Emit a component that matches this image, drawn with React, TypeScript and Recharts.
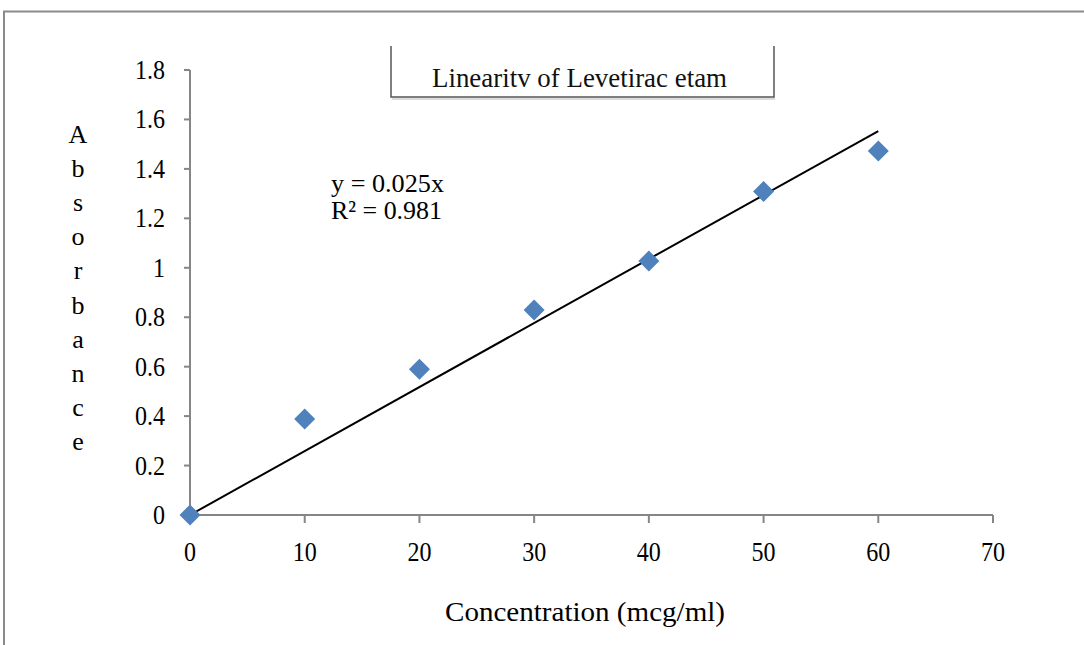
// @ts-nocheck
import React from "react";
import {
  ScatterChart,
  Scatter,
  XAxis,
  YAxis,
  ReferenceLine,
} from "recharts";

const concentration = [0, 10, 20, 30, 40, 50, 60];
const absorbance = [0, 0.388, 0.59, 0.829, 1.027, 1.309, 1.472];
const trendX = [0, 60];
const trendY = [0, 1.553];
const xTicks = [0, 10, 20, 30, 40, 50, 60, 70];
const yTicks = [0, 0.2, 0.4, 0.6, 0.8, 1, 1.2, 1.4, 1.6, 1.8];
const yLabelLetters = "Absorbance".split("");

const points = concentration.map((c, i) => ({ x: c, y: absorbance[i] }));

const FONT = "'Liberation Serif', 'Times New Roman', serif";
const AXIS_GRAY = "#868686";

// square turned 45deg, like Excel's diamond marker
const Diamond = (props) => {
  const { cx, cy } = props;
  const r = 10.5;
  return (
    <polygon
      points={`${cx},${cy - r} ${cx + r},${cy} ${cx},${cy + r} ${cx - r},${cy}`}
      fill="#4F81BD"
    />
  );
};

// the source font is a little narrower than Liberation Serif
const XTick = ({ x, y, payload }) => (
  <g transform={`translate(${x},${y})`}>
    <text transform="scale(0.89,1)" textAnchor="middle" dy={18} fontFamily={FONT} fontSize={27} fill="#000">
      {payload.value}
    </text>
  </g>
);

const YTick = ({ x, y, payload }) => (
  <g transform={`translate(${x},${y})`}>
    <text transform="scale(0.89,1)" textAnchor="end" dy={9} fontFamily={FONT} fontSize={27} fill="#000">
      {payload.value}
    </text>
  </g>
);

const YLabel = () => (
  <g>
    {yLabelLetters.map((ch, i) => (
      <text
        key={i}
        x={78}
        y={143 + i * 34.1}
        textAnchor="middle"
        fontFamily={FONT}
        fontSize={26}
        fill="#000"
      >
        {ch}
      </text>
    ))}
  </g>
);

const Frame = () => (
  <g>
    <rect x={4} y={11.5} width={1200} height={800} fill="none" stroke="#8a8a8a" strokeWidth={2} />
    <polyline points="391,46 391,97 774,97 774,46" fill="none" stroke="#555" strokeWidth={1.5} />
    <line x1={392} y1={99} x2={775} y2={99} stroke="#bbb" strokeWidth={1} />
    <text
      x={432}
      y={87}
      fontFamily={FONT}
      fontSize={27}
      textLength={295}
      lengthAdjust="spacingAndGlyphs"
      fill="#111"
    >
      Linearitv of Levetirac etam
    </text>
    <text x={331} y={192} fontFamily={FONT} fontSize={26} textLength={113} lengthAdjust="spacingAndGlyphs" fill="#000">
      y = 0.025x
    </text>
    <text x={331} y={219} fontFamily={FONT} fontSize={26} textLength={111} lengthAdjust="spacingAndGlyphs" fill="#000">
      R² = 0.981
    </text>
    <text
      x={445}
      y={621}
      fontFamily={FONT}
      fontSize={27}
      textLength={280}
      lengthAdjust="spacingAndGlyphs"
      fill="#000"
    >
      Concentration (mcg/ml)
    </text>
  </g>
);

export default function App() {
  return (
    <div style={{ position: "absolute", left: 0, top: 0, width: 1084, height: 645, background: "#fff" }}>
      <ScatterChart
        width={1084}
        height={645}
        margin={{ top: 70, right: 91, bottom: 100, left: 0 }}
        style={{ fontFamily: FONT }}
      >
        <XAxis
          type="number"
          dataKey="x"
          domain={[0, 70]}
          ticks={xTicks}
          height={30}
          axisLine={{ stroke: AXIS_GRAY, strokeWidth: 2 }}
          tickLine={{ stroke: AXIS_GRAY, strokeWidth: 2 }}
          tickSize={8}
          tickMargin={20}
          tick={<XTick />}
        />
        <YAxis
          type="number"
          dataKey="y"
          domain={[0, 1.8]}
          ticks={yTicks}
          width={190}
          axisLine={{ stroke: AXIS_GRAY, strokeWidth: 2 }}
          tickLine={{ stroke: AXIS_GRAY, strokeWidth: 2 }}
          tickSize={6}
          tickMargin={19}
          tick={<YTick />}
          label={{ content: () => <YLabel /> }}
        />
        <ReferenceLine
          segment={[
            { x: trendX[0], y: trendY[0] },
            { x: trendX[1], y: trendY[1] },
          ]}
          stroke="#000"
          strokeWidth={2}
          ifOverflow="visible"
        />
        <Scatter
          data={points}
          shape={<Diamond />}
          isAnimationActive={false}
        />
      </ScatterChart>
      <svg
        width={1084}
        height={645}
        style={{ position: "absolute", left: 0, top: 0, pointerEvents: "none" }}
      >
        <Frame />
      </svg>
    </div>
  );
}
